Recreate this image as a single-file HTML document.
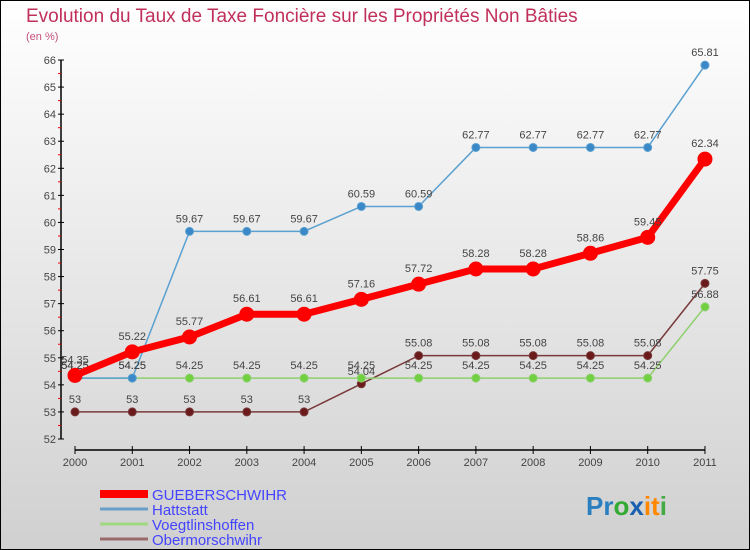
<!DOCTYPE html>
<html><head><meta charset="utf-8"><style>
html,body{margin:0;padding:0}
body{width:750px;height:550px;overflow:hidden}
#wrap{position:absolute;left:0;top:0;width:748px;height:548px;border:1px solid #000;background:linear-gradient(#fff,#d0d0d0)}
svg{position:absolute;left:0;top:0}
text{font-family:"Liberation Sans",sans-serif}
</style></head><body>
<div id="wrap"></div>
<svg id="c" width="750" height="550">
<text x="26" y="22" font-size="19" fill="#c0305a">Evolution du Taux de Taxe Foncière sur les Propriétés Non Bâties</text>
<text x="26" y="40" font-size="11" fill="#c0507a">(en %)</text>
<text x="586" y="515" font-size="26" font-weight="bold"><tspan fill="#2a7fc0">Pr</tspan><tspan fill="#3a3">o</tspan><tspan fill="#1a5fb0">x</tspan><tspan fill="#f80">it</tspan><tspan fill="#4a4">i</tspan></text>
</svg>
<script>
const years=[2000,2001,2002,2003,2004,2005,2006,2007,2008,2009,2010,2011];
const yTicks=[52,53,54,55,56,57,58,59,60,61,62,63,64,65,66];
const gueb=[54.35,55.22,55.77,56.61,56.61,57.16,57.72,58.28,58.28,58.86,59.45,62.34];
const hatt=[54.25,54.25,59.67,59.67,59.67,60.59,60.59,62.77,62.77,62.77,62.77,65.81];
const voeg=[54.25,54.25,54.25,54.25,54.25,54.25,54.25,54.25,54.25,54.25,54.25,56.88];
const ober=[53,53,53,53,53,54.04,55.08,55.08,55.08,55.08,55.08,57.75];
const names=["GUEBERSCHWIHR","Hattstatt","Voegtlinshoffen","Obermorschwihr"];
const NS="http://www.w3.org/2000/svg";
const svg=document.getElementById('c');
const X=i=>75+i*57.27;
const Y=v=>439-(v-52)*27.07;
function el(t,a,p){const e=document.createElementNS(NS,t);for(const k in a)e.setAttribute(k,a[k]);(p||svg).appendChild(e);return e;}
// axes
let ax=el('line',{x1:61,y1:Y(66),x2:61,y2:Y(52),stroke:'#000','stroke-width':1.5});


let xa=el('line',{x1:75,y1:450,x2:X(11),y2:450,stroke:'#000','stroke-width':1.5});


yTicks.forEach(v=>{
 el('line',{x1:58,y1:Y(v),x2:64,y2:Y(v),stroke:'#000'});
 if(v<66)el('line',{x1:58,y1:Y(v+0.5),x2:61,y2:Y(v+0.5),stroke:'#e00'});
 const t=el('text',{x:56,y:Y(v)+4,'font-size':11,fill:'#444','text-anchor':'end'});
 t.textContent=v;
 
 
});
years.forEach((y,i)=>{
 el('line',{x1:X(i),y1:446,x2:X(i),y2:454,stroke:'#000'});
 const t=el('text',{x:X(i),y:466,'font-size':11,fill:'#444','text-anchor':'middle'});
 t.textContent=y;
 
 
});
function series(data,color,w,r,fill,name,labelDy){
 const g=el('g',{});
 
 
 el('polyline',{points:data.map((v,i)=>X(i)+','+Y(v)).join(' '),fill:'none',stroke:color,'stroke-width':w,'stroke-linejoin':'round'},g);
 data.forEach((v,i)=>{
  const c=el('circle',{cx:X(i),cy:Y(v),r:r,fill:fill,stroke:color,'stroke-width':1},g);
  
  
  const t=el('text',{x:X(i),y:Y(v)+labelDy,'font-size':11,fill:'#444','text-anchor':'middle'},g);
  t.textContent=v;
  
  
 });
}
series(ober,'#7a3a3a',1.5,4,'#6a1a1a','obermorschwihr',-9);
series(voeg,'#8fd070',1.5,4,'#70d040','voegtlinshoffen',-9);
series(hatt,'#5aa0d0',1.5,4,'#3a88c8','hattstatt',-9);
series(gueb,'#f00',7,7,'#f00','gueberschwihr',-12);
const cols=['#f00','#6aa0c8','#a0d880','#9a6a6a'],ws=[8,3,3,3];
names.forEach((n,i)=>{
 const y=494+i*15;
 const l=el('line',{x1:100,y1:y,x2:148,y2:y,stroke:cols[i],'stroke-width':ws[i]});
 
 
 const t=el('text',{x:152,y:y+6,'font-size':15,fill:'#4444ff'});
 t.textContent=n;
 
 
});
</script>
</body></html>
